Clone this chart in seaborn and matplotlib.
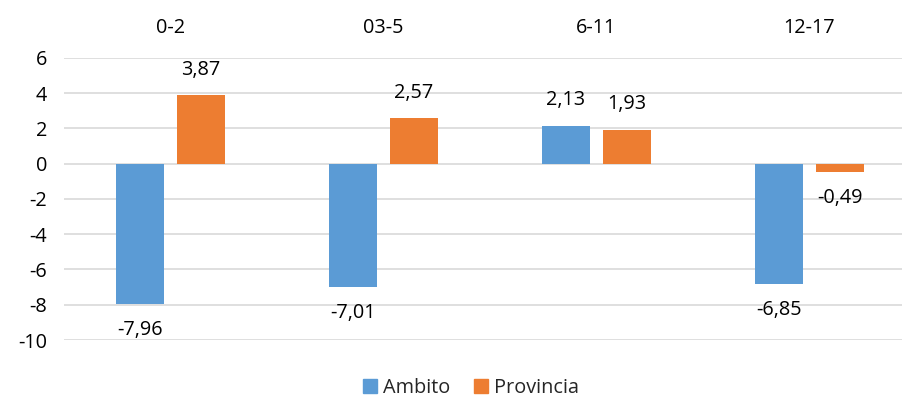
import matplotlib
matplotlib.use("Agg")
import matplotlib.pyplot as plt
import pandas as pd
import seaborn as sns

# Age brackets and change values for each series
categories = ["0-2", "03-5", "6-11", "12-17"]
ambito = [-7.96, -7.01, 2.13, -6.85]
provincia = [3.87, 2.57, 1.93, -0.49]
series_names = ["Ambito", "Provincia"]
y_ticks = [-10, -8, -6, -4, -2, 0, 2, 4, 6]

colors = {"Ambito": "#5B9BD5", "Provincia": "#ED7D31"}

df = pd.DataFrame({
    "categoria": categories * 2,
    "serie": [series_names[0]] * len(categories) + [series_names[1]] * len(categories),
    "valor": ambito + provincia,
})

sns.set_theme(style="white")
plt.rcParams["font.family"] = ["Open Sans", "DejaVu Sans"]
plt.rcParams["axes.unicode_minus"] = False

FS = 14.3
W, H = 903, 401
fig = plt.figure(figsize=(W / 100, H / 100), dpi=100)
ax = fig.add_axes([64 / W, 61 / H, (916 - 64) / W, (340.5 - 58.3) / H])

sns.barplot(data=df, x="categoria", y="valor", hue="serie", order=categories,
            hue_order=series_names, palette=colors, width=0.572, gap=0.213,
            saturation=1, legend=False, ax=ax, linewidth=0)

ax.set_ylim(-10, 6)
ax.set_yticks(y_ticks)
ax.set_yticklabels([str(t) for t in y_ticks])
ax.set_xlim(-0.5, len(categories) - 0.5)
ax.grid(axis="y", color="#D9D9D9", linewidth=1.2)
ax.set_axisbelow(True)
for s in ax.spines.values():
    s.set_visible(False)
ax.xaxis.tick_top()
ax.tick_params(axis="x", length=0, pad=14, labelsize=FS, labelcolor="#000000")
ax.tick_params(axis="y", length=0, pad=12, labelsize=FS, labelcolor="#000000")
ax.set_xlabel("")
ax.set_ylabel("")

# Value labels outside the end of each bar
for container in ax.containers:
    for patch in container.patches:
        v = patch.get_height()
        x = patch.get_x() + patch.get_width() / 2
        off = 18.5 if v >= 0 else -18.5
        ax.annotate(f"{v:.2f}".replace(".", ","), (x, v), xytext=(0, off),
                    textcoords="offset points", ha="center", va="center",
                    fontsize=FS, color="#000000")

handles = [plt.Rectangle((0, 0), 1, 1, color=colors[n]) for n in series_names]
fig.legend(handles, series_names, loc="center", bbox_to_anchor=(471 / W, 1 - 388 / H),
           ncol=2, frameon=False, fontsize=FS, handlelength=0.7, handleheight=0.7,
           handletextpad=0.3, columnspacing=1.2)

fig.savefig("out.png", dpi=100)
